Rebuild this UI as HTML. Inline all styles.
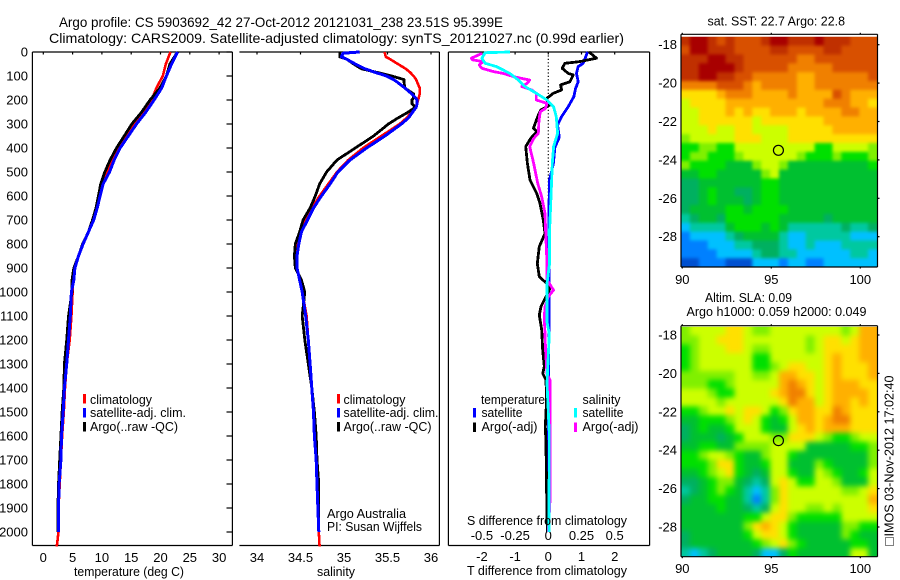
<!DOCTYPE html>
<html>
<head>
<meta charset="utf-8">
<title>Argo profile 5903692_42</title>
<style>
html,body{margin:0;padding:0;background:#fff;}
svg{display:block;}
text{font-family:"Liberation Sans",sans-serif;font-size:13px;fill:#000;}
.title{font-size:14px;}
</style>
</head>
<body>
<svg id="chart" xmlns="http://www.w3.org/2000/svg" width="900" height="580" viewBox="0 0 900 580">
<defs>
<filter id="soft-sst" x="-5%" y="-5%" width="110%" height="110%" color-interpolation-filters="sRGB">
<feGaussianBlur stdDeviation="1.6"/>
<feComponentTransfer><feFuncA type="linear" slope="20"/></feComponentTransfer>
</filter>
<filter id="soft-sla" x="-5%" y="-5%" width="110%" height="110%" color-interpolation-filters="sRGB">
<feGaussianBlur stdDeviation="2.6"/>
<feComponentTransfer><feFuncA type="linear" slope="20"/></feComponentTransfer>
</filter>
<clipPath id="clip-sst"><rect x="681" y="36.7" width="196.5" height="230.3"/></clipPath>
<clipPath id="clip-sla"><rect x="681" y="326.7" width="196.5" height="230"/></clipPath>
</defs>
<rect x="0" y="0" width="900" height="580" fill="#fff"/>
<text class="title" x="59" y="27" textLength="444" lengthAdjust="spacingAndGlyphs">Argo profile: CS 5903692_42 27-Oct-2012 20121031_238 23.51S 95.399E</text>
<text class="title" x="49" y="43" textLength="575" lengthAdjust="spacingAndGlyphs">Climatology: CARS2009. Satellite-adjusted climatology: synTS_20121027.nc (0.99d earlier)</text>
<g id="marks"></g>

<text x="74" y="576" textLength="110" lengthAdjust="spacingAndGlyphs">temperature (deg C)</text>
<text x="317" y="576" textLength="38" lengthAdjust="spacingAndGlyphs">salinity</text>
<text x="467" y="575" textLength="160" lengthAdjust="spacingAndGlyphs">T difference from climatology</text>
<text x="467" y="525" textLength="160" lengthAdjust="spacingAndGlyphs">S difference from climatology</text>

<rect x="83" y="394" width="3" height="9.5" fill="#f00"/>
<rect x="83" y="408" width="3" height="9.5" fill="#00f"/>
<rect x="83" y="422" width="3" height="9.5" fill="#000"/>
<text x="90" y="404" textLength="62" lengthAdjust="spacingAndGlyphs">climatology</text>
<text x="90" y="417" textLength="96" lengthAdjust="spacingAndGlyphs">satellite-adj. clim.</text>
<text x="90" y="431" textLength="88" lengthAdjust="spacingAndGlyphs">Argo(..raw -QC)</text>

<rect x="337" y="394" width="3" height="9.5" fill="#f00"/>
<rect x="337" y="408" width="3" height="9.5" fill="#00f"/>
<rect x="337" y="422" width="3" height="9.5" fill="#000"/>
<text x="343.5" y="404" textLength="62" lengthAdjust="spacingAndGlyphs">climatology</text>
<text x="343.5" y="417" textLength="95" lengthAdjust="spacingAndGlyphs">satellite-adj. clim.</text>
<text x="343.5" y="431" textLength="88" lengthAdjust="spacingAndGlyphs">Argo(..raw -QC)</text>
<text x="327" y="518" textLength="79" lengthAdjust="spacingAndGlyphs">Argo Australia</text>
<text x="327" y="531" textLength="95" lengthAdjust="spacingAndGlyphs">PI: Susan Wijffels</text>

<text x="481" y="404" textLength="64" lengthAdjust="spacingAndGlyphs">temperature</text>
<rect x="473" y="408" width="3" height="9.5" fill="#00f"/>
<rect x="473" y="422.5" width="3" height="9.5" fill="#000"/>
<text x="481.5" y="417" textLength="41" lengthAdjust="spacingAndGlyphs">satellite</text>
<text x="481.5" y="431" textLength="56" lengthAdjust="spacingAndGlyphs">Argo(-adj)</text>
<text x="582.5" y="404" textLength="38" lengthAdjust="spacingAndGlyphs">salinity</text>
<rect x="574" y="408" width="3" height="9.5" fill="#0ff"/>
<rect x="574" y="422.5" width="3" height="9.5" fill="#f0f"/>
<text x="582.5" y="417" textLength="41" lengthAdjust="spacingAndGlyphs">satellite</text>
<text x="582.5" y="431" textLength="56" lengthAdjust="spacingAndGlyphs">Argo(-adj)</text>

<text x="707.5" y="25.5" textLength="137.5" lengthAdjust="spacingAndGlyphs">sat. SST: 22.7 Argo: 22.8</text>
<text x="705" y="302" textLength="87" lengthAdjust="spacingAndGlyphs">Altim. SLA: 0.09</text>
<text x="686.5" y="316" textLength="180" lengthAdjust="spacingAndGlyphs">Argo h1000: 0.059 h2000: 0.049</text>
<rect x="885.5" y="537.5" width="8" height="8" fill="none" stroke="#000" stroke-width="1" stroke-dasharray="1 1"/>
<text transform="translate(893.5,536.5) rotate(-90)" x="0" y="0" textLength="161" lengthAdjust="spacingAndGlyphs">IMOS 03-Nov-2012 17:02:40</text>
</svg>

<script>
// ---------- profile data ----------
var depthTickLabels = [0,100,200,300,400,500,600,700,800,900,1000,1100,1200,1300,1400,1500,1600,1700,1800,1900,2000];
var tempTickLabels = [0,5,10,15,20,25,30];
var salTickLabels = [34,34.5,35,35.5,36];
var tDiffTickLabels = [-2,-1,0,1,2];
var sDiffTickLabels = [-0.5,-0.25,0,0.25,0.5];

var tempDepths = [0,50,100,150,200,250,300,350,400,450,500,550,600,650,700,750,800,850,900,950,1000,1100,1200,1300,1400,1500,1600,1700,1800,1900,2000,2060];
var tempClim = [21.7,20.9,20.4,19.3,18.5,17.1,15.4,14.1,12.8,11.7,10.9,10.1,9.6,9.1,8.5,7.7,6.8,6.0,5.3,5.1,5.0,4.8,4.5,4.0,3.7,3.5,3.2,3.0,2.8,2.6,2.6,2.3];
var tempArgo = [22.9,21.6,21.0,19.9,18.2,16.8,15.1,13.8,12.5,11.4,10.5,9.8,9.4,9.0,8.4,7.7,6.7,6.0,5.2,4.9,4.9,4.3,4.0,3.6,3.5,3.2,3.0,2.8,2.6,2.5,2.5];
var tempSat = [22.9,21.9,21.0,20.2,18.9,17.5,15.9,14.5,13.1,12.1,11.3,10.2,9.7,9.2,8.6,7.7,6.8,6.0,5.4,5.2,4.8,4.6,4.3,4.0,3.6,3.4,3.1,3.0,2.7,2.6,2.6];

var salDepths = [0,5,20,30,50,70,85,100,115,125,150,175,190,200,215,230,250,275,300,350,400,450,500,550,600,650,700,750,800,850,900,950,1000,1100,1200,1300,1400,1500,1600,1700,1800,1900,2000,2060];
var salClim = [35.47,35.47,35.48,35.53,35.62,35.71,35.76,35.80,35.83,35.84,35.87,35.87,35.86,35.85,35.84,35.82,35.78,35.72,35.64,35.43,35.22,35.05,34.92,34.82,34.72,34.63,34.55,34.51,34.47,34.46,34.46,34.49,34.52,34.57,34.59,34.61,34.63,34.65,34.66,34.68,34.69,34.70,34.71,34.72];
var salArgo = [34.95,34.95,34.95,35.03,35.11,35.20,35.38,35.55,35.69,35.69,35.70,35.80,35.80,35.78,35.78,35.82,35.74,35.62,35.51,35.34,35.13,34.92,34.80,34.72,34.67,34.61,34.53,34.49,34.44,34.43,34.44,34.51,34.55,34.52,34.55,34.59,34.63,34.66,34.68,34.69,34.71,34.71,34.71];
var salSat = [35.18,34.99,34.97,35.03,35.13,35.24,35.36,35.49,35.57,35.61,35.70,35.78,35.82,35.84,35.84,35.83,35.79,35.74,35.66,35.47,35.26,35.07,34.93,34.84,34.74,34.65,34.58,34.51,34.48,34.46,34.46,34.49,34.52,34.56,34.59,34.61,34.63,34.65,34.66,34.68,34.69,34.70,34.71];

var dtSatDepths = [0,47,61,89,124,153,186,228,269,304,356,397,467,537,700,1000,1500,2000];
var dtSat = [1.18,1.05,0.90,0.85,0.90,0.82,0.77,0.60,0.40,0.28,0.33,0.20,0.15,0.03,0.02,0.02,0.01,0.01];
var dtArgoDepths = [0,26,40,47,68,89,96,124,137,158,172,196,221,242,269,318,332,360,394,464,533,589,631,700,756,811,881,936,971,985,1019,1061,1096,1158,1242,1311,1339,1367,1450,1561,1631,1825,2000];
var dtArgo = [1.23,1.45,0.95,0.50,0.42,0.60,0.75,0.65,0.37,0.40,0.15,-0.07,0.05,-0.23,-0.32,-0.45,-0.35,-0.53,-0.68,-0.63,-0.55,-0.35,-0.25,-0.15,-0.10,-0.27,-0.33,-0.27,0,0.05,-0.07,-0.22,-0.27,-0.20,-0.17,-0.12,-0.17,-0.07,-0.05,-0.09,-0.07,-0.05,-0.03];
var dsArgoDepths = [6,26,33,40,54,68,82,89,103,117,131,144,158,172,200,214,235,249,283,339,360,394,464,547,603,672,742,881,950,992,1019,1061,1107,1175,1245,1342,1367,1600,1868,2000];
var dsArgo = [-0.50,-0.58,-0.57,-0.49,-0.52,-0.50,-0.41,-0.34,-0.26,-0.14,-0.16,-0.20,-0.125,-0.09,-0.09,-0.01,-0.02,-0.06,-0.07,-0.075,-0.11,-0.14,-0.11,-0.08,-0.05,-0.025,-0.02,-0.01,-0.01,0.04,0,-0.025,-0.03,-0.025,-0.02,-0.01,0.0125,0.0125,0.0125,0];
var dsSatDepths = [0,3,26,47,61,89,117,144,172,200,228,269,339,394,464,603,742,881,964,1061,1125,1175,1380,1590,2000];
var dsSat = [-0.29,-0.475,-0.50,-0.475,-0.39,-0.29,-0.225,-0.175,-0.09,-0.01,0.04,0.06,0.07,0.04,0.03,0.02,0.01,0.01,-0.01,-0.01,-0.01,0.0075,-0.01,0.0075,0.005];

// ---------- map data (colour level per cell) ----------
var mapColors = ['#0050d0','#0080ff','#00c0ff','#00c8a0','#00b060','#00c030','#00e000','#80f000','#ccff00','#ffe000','#ffb000','#f08000','#d85000','#c03000','#a80000'];
var lonTickLabels = [90,95,100];
var latTickLabels = [-18,-20,-22,-24,-26,-28];
var argoLon = 95.4;
var argoLat = -23.5;
var sstLevels = [
[13,14,14,13,12,13,12,12,12,13,14,14,13,13,13,14,13,13,13,12,12,12],
[12,14,14,13,13,13,12,12,12,12,13,13,12,12,12,12,13,13,12,12,12,12],
[13,13,13,14,14,13,13,12,12,12,12,12,12,11,11,12,12,12,12,12,12,12],
[13,13,14,14,14,14,13,12,12,12,12,12,11,11,11,11,11,12,12,12,12,12],
[13,13,14,14,13,13,12,12,11,11,11,11,11,10,10,11,11,11,11,11,11,12],
[11,11,11,11,12,12,12,11,10,11,11,11,11,10,10,11,11,11,11,11,11,11],
[9,9,9,9,10,11,11,11,10,10,10,10,11,10,10,10,10,12,11,10,10,10],
[8,9,9,9,9,10,10,10,10,10,10,10,10,10,10,10,11,11,11,10,10,9],
[8,8,9,9,9,10,9,10,9,9,10,10,10,9,10,10,10,10,11,11,10,10],
[8,8,9,9,9,9,9,9,8,9,9,9,9,9,9,9,10,10,10,10,10,10],
[8,8,8,9,8,8,9,9,8,8,8,8,9,9,9,9,9,10,10,10,10,10],
[7,8,8,8,8,8,9,9,9,8,8,8,9,9,9,9,9,9,9,9,9,9],
[6,6,7,7,6,6,8,8,8,8,8,8,8,8,8,6,6,8,8,8,8,7],
[6,7,7,6,6,6,7,8,8,8,8,8,8,7,6,6,6,7,6,6,6,7],
[7,6,6,6,6,5,5,5,7,8,8,7,5,5,5,5,5,5,5,5,5,6],
[5,5,6,6,5,5,5,5,5,7,8,5,5,5,5,5,5,5,5,5,5,5],
[4,4,5,5,5,5,5,5,5,6,6,5,5,5,5,5,5,5,5,5,5,5],
[4,4,5,6,5,5,4,4,5,6,6,5,5,5,5,5,5,5,5,5,5,5],
[4,4,5,6,5,5,5,4,5,6,6,5,5,5,5,5,5,5,5,5,5,5],
[4,5,5,5,5,6,6,5,6,6,6,6,5,5,5,5,5,5,5,5,5,5],
[3,4,5,5,4,6,6,6,6,6,6,5,5,5,5,5,4,5,5,5,5,5],
[2,3,3,3,3,5,6,6,6,5,6,5,3,3,3,3,3,3,4,3,3,4],
[1,2,2,2,2,3,4,5,5,5,5,3,2,2,3,3,3,3,3,2,2,2],
[1,1,1,2,2,2,3,3,4,4,4,3,2,2,3,2,2,2,3,3,3,3],
[1,1,1,1,2,2,2,2,3,4,4,3,3,2,2,2,2,2,2,3,3,2],
[0,0,1,1,1,0,0,0,2,2,2,1,2,2,1,1,2,2,2,2,2,2]
];
var slaLevels = [
[7,8,8,8,8,9,9,8,7,7,8,8,8,8,8,8,8,8,7,8,10,10],
[7,7,8,8,9,9,9,8,8,8,8,8,8,8,7,8,9,9,8,9,10,10],
[6,7,8,8,8,9,9,8,7,7,8,8,8,8,7,8,9,9,9,9,10,10],
[6,7,8,8,8,8,8,8,6,6,8,8,8,8,8,8,9,10,9,9,10,10],
[6,7,8,8,8,8,8,8,6,6,7,8,9,9,8,8,9,10,9,9,9,10],
[7,7,7,7,7,7,8,8,7,7,8,10,10,9,9,8,9,10,9,9,9,10],
[7,7,7,6,6,7,8,8,8,8,8,10,11,10,9,8,9,10,10,10,9,9],
[8,8,8,7,6,6,8,8,8,8,9,10,11,11,9,8,9,10,10,10,10,9],
[8,8,8,8,7,8,8,8,8,8,8,9,11,10,10,8,9,10,10,9,10,9],
[6,6,7,8,8,9,8,9,9,8,6,7,9,10,10,9,9,11,10,9,9,9],
[5,5,6,6,6,7,8,9,8,6,5,6,8,10,10,9,10,11,11,9,9,9],
[4,5,6,5,5,6,8,8,8,6,5,5,8,9,10,9,10,10,10,9,9,9],
[4,5,5,5,4,5,6,8,8,8,7,7,9,9,9,8,7,6,6,7,8,8],
[5,5,6,6,5,5,7,7,7,7,8,8,8,8,5,5,5,5,5,6,6,7],
[6,6,7,8,8,7,6,5,5,7,8,8,6,5,5,5,5,5,5,5,5,7],
[6,6,6,7,9,9,6,5,5,6,8,8,5,5,5,7,6,5,5,5,5,7],
[5,5,6,7,8,9,6,5,4,5,8,8,6,5,5,8,7,6,5,5,6,8],
[4,4,5,6,7,7,5,4,3,4,8,9,8,6,6,8,8,7,5,5,5,8],
[3,4,5,6,7,6,5,3,2,3,7,9,8,8,8,8,8,8,7,7,8,9],
[4,5,5,6,6,5,5,3,1,3,7,9,8,8,8,8,8,8,8,8,8,10],
[5,5,5,5,6,5,5,4,3,4,8,9,8,8,7,7,8,7,8,8,8,9],
[5,5,5,5,5,5,5,6,6,8,9,9,7,6,6,6,6,6,8,8,8,8],
[5,5,5,5,5,5,5,7,9,10,9,8,6,5,5,5,5,5,7,7,6,6],
[4,5,5,5,5,5,5,6,8,9,9,8,6,5,5,5,5,5,7,6,5,5],
[4,5,5,5,5,5,5,5,6,7,8,9,7,6,5,5,5,5,5,6,6,5],
[3,2,3,4,5,5,5,5,4,2,2,4,6,5,5,5,5,5,5,8,8,5]
];

// ---------- scales ----------
function yDepth(d){ return 52 + 0.24 * d; }
function xTemp(t){ return 43.3 + 5.86 * t; }
function xSal(s){ return 257 + 87 * (s - 34); }
function xDT(t){ return 548.3 + 33.2 * t; }
function xDS(s){ return 548.3 + 132.8 * s; }
function xLon(l){ return 682.3 + 17.8 * (l - 90); }
function ySst(l){ return 44.7 + 19.2 * (-18 - l); }
function ySla(l){ return 335 + 19.2 * (-18 - l); }

var NS = 'http://www.w3.org/2000/svg';
var root = document.getElementById('marks');

function seg(x1, y1, x2, y2, name, w, dash){
  var el = document.createElementNS(NS, 'line');
  el.setAttribute('x1', x1);
  el.setAttribute('y1', y1);
  el.setAttribute('x2', x2);
  el.setAttribute('y2', y2);
  el.setAttribute('stroke', '#000');
  el.setAttribute('stroke-width', w || 1.2);
  if (dash) { el.setAttribute('stroke-dasharray', dash); }
  
  
  root.appendChild(el);
  return el;
}
function label(str, x, y, anchor, name){
  var el = document.createElementNS(NS, 'text');
  el.setAttribute('x', x);
  el.setAttribute('y', y);
  el.setAttribute('text-anchor', anchor);
  el.textContent = str;
  
  
  root.appendChild(el);
  return el;
}
function profile(depths, values, xf, color, width, name){
  var pts = [];
  for (var i = 0; i < values.length && i < depths.length; i++) {
    pts.push(xf(values[i]).toFixed(1) + ',' + yDepth(depths[i]).toFixed(1));
  }
  var el = document.createElementNS(NS, 'polyline');
  el.setAttribute('points', pts.join(' '));
  el.setAttribute('fill', 'none');
  el.setAttribute('stroke', color);
  el.setAttribute('stroke-width', width);
  el.setAttribute('stroke-linejoin', 'round');
  el.setAttribute('shape-rendering', 'crispEdges');
  
  
  root.appendChild(el);
  return el;
}
function heatmap(levels, top, key, name){
  var cellW = 196 / 22, cellH = 8.86;
  var lon0 = 90 - (682.3 - 681) / 17.8;
  var clip = document.createElementNS(NS, 'g');
  clip.setAttribute('clip-path', 'url(#clip-' + key + ')');
  
  
  var group = document.createElementNS(NS, 'g');
  group.setAttribute('filter', 'url(#soft-' + key + ')');
  
  
  for (var r = 0; r < levels.length; r++) {
    for (var c = 0; c < levels[r].length; c++) {
      var el = document.createElementNS(NS, 'rect');
      el.setAttribute('x', (xLon(lon0) + c * cellW).toFixed(2));
      el.setAttribute('y', (top + r * cellH).toFixed(2));
      el.setAttribute('width', (cellW + 0.4).toFixed(2));
      el.setAttribute('height', (cellH + 0.4).toFixed(2));
      el.setAttribute('fill', mapColors[levels[r][c]]);
      
      
      group.appendChild(el);
    }
  }
  clip.appendChild(group);
  root.appendChild(clip);
}
function mapAxes(yScale, top, bottom, labelY, name){
  seg(681, top, 877.5, top, name + '-frame-top');
  seg(681, bottom, 877.5, bottom, name + '-frame-bottom');
  seg(681, top, 681, bottom, name + '-frame-left');
  seg(877.5, top, 877.5, bottom, name + '-frame-right');
  lonTickLabels.forEach(function(l){
    seg(xLon(l), top - 1.5, xLon(l), top, name + '-top-tick');
    seg(xLon(l), bottom, xLon(l), bottom + 1.5, name + '-bottom-tick');
    label(String(l), xLon(l), labelY, 'middle', name + '-lon-label');
  });
  latTickLabels.forEach(function(l){
    seg(877.5, yScale(l), 879.5, yScale(l), name + '-right-tick');
    label(String(l), 677, yScale(l) + 4.5, 'end', name + '-lat-label');
  });
  var c = document.createElementNS(NS, 'circle');
  c.setAttribute('cx', xLon(argoLon));
  c.setAttribute('cy', yScale(argoLat));
  c.setAttribute('r', 5);
  c.setAttribute('fill', 'none');
  c.setAttribute('stroke', '#000');
  c.setAttribute('stroke-width', 1.2);
  
  
  root.appendChild(c);
}

// ---------- profile panels ----------
var top0 = 52, bot0 = 545.5;
// temperature
seg(32.4, top0, 232.4, top0, 'temperature-top-axis');
seg(32.4, bot0, 232.4, bot0, 'temperature-bottom-axis');
seg(32.4, top0, 32.4, bot0, 'temperature-left-axis');
seg(232.4, top0, 232.4, bot0, 'temperature-right-axis');
depthTickLabels.forEach(function(d){
  seg(226.5, yDepth(d), 232.4, yDepth(d), 'depth-tick');
  label(String(d), 28, yDepth(d) + 4.5, 'end', 'depth-tick-label');
});
tempTickLabels.forEach(function(t){
  seg(xTemp(t), top0, xTemp(t), top0 + 2.5, 'temperature-top-tick');
  label(String(t), xTemp(t), 562, 'middle', 'temperature-tick-label');
});
profile(tempDepths, tempClim, xTemp, '#f00', 2.6, 'temperature-climatology-line');
profile(tempDepths, tempArgo, xTemp, '#000', 2.8, 'temperature-argo-line');
profile(tempDepths, tempSat, xTemp, '#00f', 3, 'temperature-satellite-line');
// salinity
seg(239.4, top0, 439.4, top0, 'salinity-top-axis');
seg(239.4, bot0, 439.4, bot0, 'salinity-bottom-axis');
seg(439.4, top0, 439.4, bot0, 'salinity-right-axis');
salTickLabels.forEach(function(s){
  seg(xSal(s), top0, xSal(s), top0 + 2.5, 'salinity-top-tick');
  label(String(s), xSal(s), 562, 'middle', 'salinity-tick-label');
});
profile(salDepths, salClim, xSal, '#f00', 2.6, 'salinity-climatology-line');
profile(salDepths, salArgo, xSal, '#000', 2.8, 'salinity-argo-line');
profile(salDepths, salSat, xSal, '#00f', 3, 'salinity-satellite-line');
// differences
seg(448.4, top0, 649.6, top0, 'difference-top-axis');
seg(448.4, bot0, 649.6, bot0, 'difference-bottom-axis');
seg(448.4, top0, 448.4, bot0, 'difference-left-axis');
seg(649.6, top0, 649.6, bot0, 'difference-right-axis');
seg(xDT(0), top0, xDT(0), 200, 'zero-difference-line', 1.2, '1.2 2.2');
tDiffTickLabels.forEach(function(t){
  seg(xDT(t), top0, xDT(t), top0 + 2.5, 'difference-top-tick');
  label(String(t), xDT(t), 561, 'middle', 't-difference-tick-label');
});
sDiffTickLabels.forEach(function(s){
  label(String(s), xDS(s), 540, 'middle', 's-difference-tick-label');
});
profile(dtSatDepths, dtSat, xDT, '#00f', 2.8, 't-difference-satellite-line');
profile(dtArgoDepths, dtArgo, xDT, '#000', 2.8, 't-difference-argo-line');
profile(dsArgoDepths, dsArgo, xDS, '#f0f', 2.8, 's-difference-argo-line');
profile(dsSatDepths, dsSat, xDS, '#0ff', 2.8, 's-difference-satellite-line');

// ---------- maps ----------
heatmap(sstLevels, 36.7, 'sst', 'sst-map');
mapAxes(ySst, 34.3, 267, 284, 'sst-map');
heatmap(slaLevels, 326.7, 'sla', 'sla-map');
mapAxes(ySla, 325.7, 556.7, 573, 'sla-map');
</script>
</body>
</html>
